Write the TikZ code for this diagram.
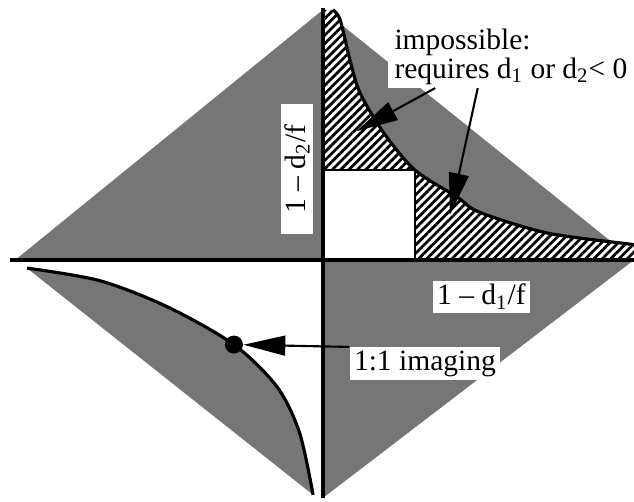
\documentclass[tikz,border=0pt]{standalone}
\usepackage{fontspec}
\setmainfont{Liberation Serif}
\usepackage{tikz}
\usetikzlibrary{arrows.meta,patterns.meta,calc}
\definecolor{halftone}{RGB}{118,118,118}
\tikzset{
  shaded/.style={fill=halftone},
  hatched/.style={preaction={fill=white}, pattern={Lines[angle=45,distance=2.8pt,line width=1.3pt]}},
  axisline/.style={line width=1.6pt},
  curveline/.style={line width=1.5pt},
  squarebox/.style={line width=1.2pt, fill=white},
  labelbox/.style={fill=white, inner xsep=2pt, inner ysep=1.5pt, font=\fontsize{14}{12.3}\selectfont},
  flow/.style={-{Triangle[length=7mm,width=3.3mm]}, line width=1pt},
  dotmark/.style={circle, fill=black, inner sep=0pt, minimum size=3mm}
}

\begin{document}
\begin{tikzpicture}[x=1.5cm,y=1.5cm]
\useasboundingbox (-3.589,-2.689) rectangle (3.456,2.889);
\coordinate (O) at (0,0);
\coordinate (L) at (-3.42,0);
\coordinate (T) at (0,2.78);
\coordinate (R) at (3.456,0);
\coordinate (B) at (0,-2.644);

\fill[shaded] (O) -- (L) -- (T) -- cycle;
\fill[shaded] (O) -- (T) -- (R) -- cycle;
\fill[shaded] (O) -- (R) -- (B) -- cycle;

\path[hatched] (O) -- (0,2.78) -- plot[smooth] coordinates {(0.11,2.78) (0.19,2.67) (0.30,2.22) (0.41,1.86) (0.67,1.42) (1.02,1.00) (1.49,0.70) (1.74,0.53) (2.49,0.30) (3.38,0.18) (3.456,0.17)} -- (R) -- cycle;
\draw[squarebox] (O) rectangle (1.02,1.00);
\draw[curveline] plot[smooth] coordinates {(0.11,2.78) (0.19,2.67) (0.30,2.22) (0.41,1.86) (0.67,1.42) (1.02,1.00) (1.49,0.70) (1.74,0.53) (2.49,0.30) (3.38,0.18) (3.456,0.17)};

\fill[shaded] plot[smooth] coordinates {(-3.29,-0.09) (-2.48,-0.23) (-1.73,-0.52) (-0.99,-0.94) (-0.51,-1.41) (-0.26,-1.92) (-0.11,-2.61)} -- cycle;
\draw[curveline] plot[smooth] coordinates {(-3.29,-0.09) (-2.48,-0.23) (-1.73,-0.52) (-0.99,-0.94) (-0.51,-1.41) (-0.26,-1.92) (-0.11,-2.61)};

\draw[axisline] (-3.478,0) -- (R);
\draw[axisline] (0,2.8) -- (0,-2.64);

\node[labelbox, rotate=90, minimum width=2.17cm] (dtwo) at (-0.29,1.01) {1 -- d\textsubscript{2}/f};
\node[labelbox] (done) at (1.76,-0.41) {1 -- d\textsubscript{1}/f};
\node[labelbox] (imaging) at (1.133,-1.15) {1:1 imaging};
\node[labelbox, align=left, anchor=south west, inner xsep=3pt] (imp) at (0.72,1.91) {impossible:\\requires d\textsubscript{1} or d\textsubscript{2}< 0};

\node[dotmark] (dot) at (-0.99,-0.94) {};
\coordinate (tipA) at (0.37,1.43);
\coordinate (tipB) at (1.41,0.50);

\draw[flow] (imaging.north west) -- (dot);
\draw[flow] ([xshift=0.79cm]imp.south west) -- (tipA);
\draw[flow] ([xshift=1.5cm]imp.south west) -- (tipB);
\end{tikzpicture}
\end{document}
